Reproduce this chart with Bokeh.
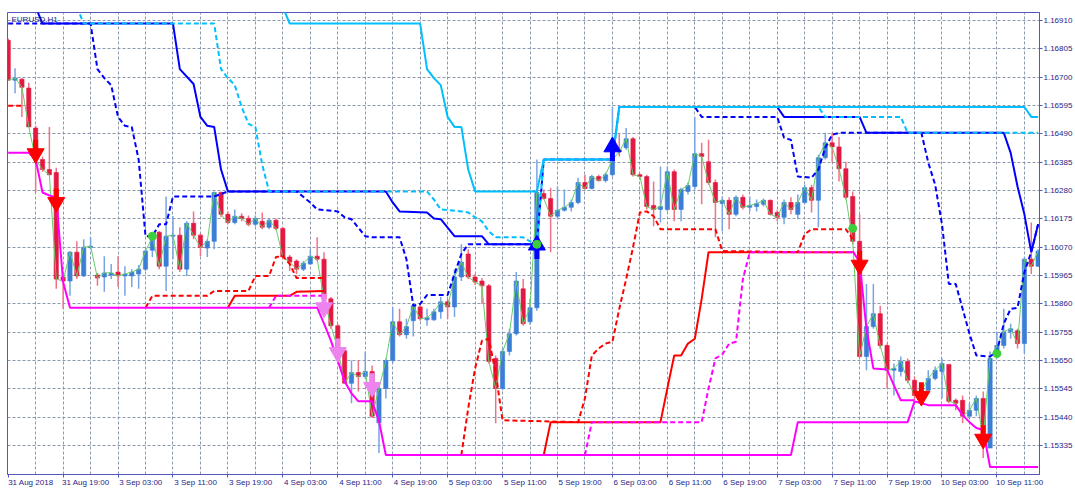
import math
from bokeh.plotting import figure
from bokeh.models import FixedTicker, PrintfTickFormatter, Range1d, Label, ColumnDataSource, LinearAxis
from bokeh.embed import file_html
from bokeh.resources import INLINE

# ---------------- data ----------------
symbol = "EURUSD,H1"
time_labels = ["31 Aug 2018", "31 Aug 19:00", "3 Sep 03:00", "3 Sep 11:00", "3 Sep 19:00",
               "4 Sep 03:00", "4 Sep 11:00", "4 Sep 19:00", "5 Sep 03:00", "5 Sep 11:00",
               "5 Sep 19:00", "6 Sep 03:00", "6 Sep 11:00", "6 Sep 19:00", "7 Sep 03:00",
               "7 Sep 11:00", "7 Sep 19:00", "10 Sep 03:00", "10 Sep 11:00"]
label_bars = [0, 8, 16, 24, 32, 40, 48, 56, 64, 72, 80, 88, 96, 104, 112, 120, 128, 136, 144]
grid_bars = [4, 8, 12, 16, 20, 24, 28, 32, 36, 40, 44, 48, 52, 56, 60, 64, 68, 72, 76, 80, 84, 88,
             92, 96, 100, 104, 108, 112, 116, 120, 124, 128, 132, 136, 140, 144, 148]
price_ticks = [1.16910, 1.16805, 1.16700, 1.16595, 1.16490, 1.16385, 1.16280, 1.16175,
               1.16070, 1.15965, 1.15860, 1.15755, 1.15650, 1.15545, 1.15440, 1.15335]

open_ = [1.16837, 1.16689, 1.16693, 1.16660, 1.16512, 1.16395, 1.16358, 1.16347, 1.15960, 1.15945,
         1.16052, 1.15964, 1.16070, 1.15967, 1.15960, 1.15967, 1.15978, 1.15964, 1.15964, 1.15971,
         1.15989, 1.16059, 1.16126, 1.16000, 1.16111, 1.16115, 1.15989, 1.16159, 1.16115, 1.16067,
         1.16092, 1.16273, 1.16192, 1.16162, 1.16185, 1.16177, 1.16155, 1.16166, 1.16144, 1.16170,
         1.16140, 1.16034, 1.16019, 1.15989, 1.16008, 1.16037, 1.16026, 1.15879, 1.15779, 1.15687,
         1.15566, 1.15606, 1.15591, 1.15610, 1.15420, 1.15547, 1.15650, 1.15794, 1.15746, 1.15798,
         1.15849, 1.15801, 1.15801, 1.15831, 1.15868, 1.15849, 1.15960, 1.16045, 1.15960, 1.15945,
         1.15927, 1.15658, 1.15547, 1.15684, 1.15750, 1.15916, 1.15794, 1.15846, 1.16269, 1.16251,
         1.16185, 1.16207, 1.16218, 1.16236, 1.16310, 1.16288, 1.16332, 1.16317, 1.16339, 1.16431,
         1.16439, 1.16472, 1.16339, 1.16332, 1.16225, 1.16210, 1.16210, 1.16350, 1.16210, 1.16277,
         1.16295, 1.16417, 1.16387, 1.16310, 1.16232, 1.16244, 1.16192, 1.16255, 1.16218, 1.16221,
         1.16229, 1.16244, 1.16199, 1.16181, 1.16236, 1.16192, 1.16236, 1.16291, 1.16244, 1.16402,
         1.16457, 1.16442, 1.16361, 1.16258, 1.16092, 1.15665, 1.15776, 1.15824, 1.15706, 1.15614,
         1.15610, 1.15647, 1.15577, 1.15521, 1.15540, 1.15584, 1.15610, 1.15636, 1.15503, 1.15503,
         1.15444, 1.15466, 1.15510, 1.15326, 1.15684, 1.15706, 1.15757, 1.15761, 1.15713, 1.16026,
         1.16000]
high = [1.16844, 1.16733, 1.16697, 1.16680, 1.16520, 1.16406, 1.16516, 1.16365, 1.15971, 1.16056,
        1.16092, 1.16100, 1.16107, 1.15975, 1.16037, 1.16008, 1.16037, 1.16000, 1.15989, 1.16004,
        1.16063, 1.16115, 1.16129, 1.16258, 1.16185, 1.16144, 1.16166, 1.16203, 1.16122, 1.16100,
        1.16277, 1.16277, 1.16203, 1.16210, 1.16196, 1.16188, 1.16188, 1.16199, 1.16177, 1.16177,
        1.16144, 1.16041, 1.16026, 1.16019, 1.16063, 1.16107, 1.16052, 1.15886, 1.15787, 1.15695,
        1.15650, 1.15650, 1.15684, 1.15632, 1.15555, 1.15658, 1.15849, 1.15842, 1.15805, 1.15860,
        1.15857, 1.15842, 1.15842, 1.15886, 1.15879, 1.15989, 1.16081, 1.16063, 1.15971, 1.15956,
        1.15934, 1.15669, 1.15695, 1.15768, 1.15978, 1.15952, 1.15879, 1.16395, 1.16284, 1.16291,
        1.16295, 1.16284, 1.16247, 1.16328, 1.16339, 1.16339, 1.16339, 1.16347, 1.16590, 1.16494,
        1.16512, 1.16479, 1.16343, 1.16339, 1.16314, 1.16369, 1.16369, 1.16358, 1.16291, 1.16310,
        1.16553, 1.16457, 1.16468, 1.16321, 1.16258, 1.16255, 1.16262, 1.16266, 1.16258, 1.16247,
        1.16251, 1.16247, 1.16207, 1.16247, 1.16255, 1.16266, 1.16302, 1.16302, 1.16413, 1.16494,
        1.16494, 1.16479, 1.16387, 1.16277, 1.16192, 1.15934, 1.15934, 1.15853, 1.15713, 1.15639,
        1.15665, 1.15658, 1.15591, 1.15566, 1.15614, 1.15628, 1.15658, 1.15636, 1.15510, 1.15521,
        1.15492, 1.15521, 1.15536, 1.15684, 1.15757, 1.15842, 1.15787, 1.15768, 1.16034, 1.16162,
        1.16063]
low = [1.16689, 1.16641, 1.16553, 1.16516, 1.16273, 1.16350, 1.16336, 1.15916, 1.15842, 1.15890,
       1.15952, 1.15960, 1.16063, 1.15927, 1.15905, 1.15952, 1.15923, 1.15890, 1.15923, 1.15916,
       1.15982, 1.16034, 1.15989, 1.15908, 1.16026, 1.15978, 1.15964, 1.16100, 1.16037, 1.16034,
       1.16063, 1.16181, 1.16155, 1.16155, 1.16166, 1.16148, 1.16148, 1.16137, 1.16137, 1.16133,
       1.16026, 1.15982, 1.15971, 1.15982, 1.16004, 1.16019, 1.15871, 1.15768, 1.15687, 1.15566,
       1.15492, 1.15536, 1.15584, 1.15437, 1.15308, 1.15510, 1.15639, 1.15739, 1.15731, 1.15739,
       1.15798, 1.15779, 1.15798, 1.15805, 1.15805, 1.15812, 1.15945, 1.15952, 1.15930, 1.15860,
       1.15639, 1.15418, 1.15540, 1.15669, 1.15743, 1.15779, 1.15783, 1.15835, 1.16247, 1.16052,
       1.16174, 1.16203, 1.16203, 1.16229, 1.16284, 1.16284, 1.16314, 1.16310, 1.16332, 1.16406,
       1.16431, 1.16332, 1.16321, 1.16210, 1.16148, 1.16162, 1.16203, 1.16166, 1.16166, 1.16266,
       1.16284, 1.16229, 1.16302, 1.16107, 1.16129, 1.16137, 1.16185, 1.16210, 1.16203, 1.16203,
       1.16221, 1.16188, 1.16166, 1.16155, 1.16192, 1.16174, 1.16229, 1.16199, 1.16144, 1.16395,
       1.16384, 1.16314, 1.16247, 1.16081, 1.15665, 1.15614, 1.15768, 1.15695, 1.15547, 1.15521,
       1.15591, 1.15566, 1.15503, 1.15492, 1.15536, 1.15577, 1.15510, 1.15492, 1.15466, 1.15418,
       1.15437, 1.15444, 1.15289, 1.15326, 1.15658, 1.15695, 1.15731, 1.15695, 1.15676, 1.15971,
       1.15997]
close = [1.16689, 1.16697, 1.16663, 1.16516, 1.16395, 1.16358, 1.16339, 1.15952, 1.15945, 1.16052,
         1.15964, 1.16070, 1.16074, 1.15956, 1.15975, 1.15975, 1.15964, 1.15971, 1.15978, 1.15989,
         1.16056, 1.16107, 1.16000, 1.16111, 1.16115, 1.15989, 1.16159, 1.16115, 1.16070, 1.16092,
         1.16273, 1.16192, 1.16162, 1.16185, 1.16177, 1.16155, 1.16177, 1.16144, 1.16170, 1.16140,
         1.16034, 1.16015, 1.15989, 1.16011, 1.16037, 1.16026, 1.15879, 1.15779, 1.15695, 1.15566,
         1.15606, 1.15591, 1.15610, 1.15444, 1.15547, 1.15650, 1.15794, 1.15746, 1.15776, 1.15853,
         1.15805, 1.15809, 1.15831, 1.15868, 1.15849, 1.15960, 1.16015, 1.15960, 1.15941, 1.15927,
         1.15647, 1.15547, 1.15684, 1.15750, 1.15945, 1.15787, 1.15846, 1.16273, 1.16251, 1.16185,
         1.16207, 1.16218, 1.16236, 1.16310, 1.16288, 1.16332, 1.16317, 1.16339, 1.16395, 1.16424,
         1.16472, 1.16339, 1.16332, 1.16221, 1.16210, 1.16221, 1.16350, 1.16210, 1.16284, 1.16299,
         1.16417, 1.16406, 1.16310, 1.16236, 1.16244, 1.16192, 1.16255, 1.16218, 1.16225, 1.16232,
         1.16244, 1.16192, 1.16181, 1.16236, 1.16210, 1.16236, 1.16291, 1.16244, 1.16402, 1.16457,
         1.16442, 1.16361, 1.16255, 1.16092, 1.15665, 1.15776, 1.15824, 1.15706, 1.15614, 1.15621,
         1.15647, 1.15577, 1.15521, 1.15536, 1.15584, 1.15614, 1.15639, 1.15499, 1.15492, 1.15444,
         1.15466, 1.15510, 1.15363, 1.15658, 1.15706, 1.15757, 1.15768, 1.15713, 1.16026, 1.16000,
         1.16056]

# indicator lines (bar index, price) vertices
blue_solid_a_x = [4, 5, 24, 25, 27, 28, 29, 30, 31, 32, 55, 56, 57, 61, 62, 63, 65, 69, 70, 77]
blue_solid_a_y = [1.16960, 1.16899, 1.16899, 1.16730, 1.16675, 1.16553, 1.16520, 1.16516, 1.16358, 1.16277,
                  1.16277, 1.16236, 1.16203, 1.16199, 1.16177, 1.16174, 1.16111, 1.16111, 1.16081, 1.16081]
blue_solid_b_x = [112, 113, 124, 125, 145, 146, 147, 148, 149, 150]
blue_solid_b_y = [1.16590, 1.16553, 1.16553, 1.16494, 1.16494, 1.16420, 1.16295, 1.16192, 1.16052, 1.16155]

blue_dash_x = [0, 12, 13, 14, 15, 16, 17, 18, 19, 20, 21, 22, 23, 24, 30, 32, 42, 44, 45, 48, 49, 50,
               52, 53, 57, 58, 59, 60, 61, 64, 65, 66, 67, 77, 78, 88, 89, 100, 101, 112, 113, 114,
               115, 117, 118, 119, 120, 121, 133, 134, 135, 136, 137, 138, 139, 140, 141, 143, 144,
               145, 146, 147, 148, 149, 150]
blue_dash_y = [1.16899, 1.16899, 1.16730, 1.16697, 1.16671, 1.16553, 1.16520, 1.16516, 1.16395, 1.16111,
               1.16111, 1.16155, 1.16155, 1.16258, 1.16258, 1.16277, 1.16277, 1.16236, 1.16210, 1.16203,
               1.16181, 1.16174, 1.16111, 1.16107, 1.16107, 1.16026, 1.15853, 1.15860, 1.15893, 1.15893,
               1.15971, 1.16045, 1.16081, 1.16081, 1.16395, 1.16395, 1.16590, 1.16590, 1.16553, 1.16553,
               1.16476, 1.16468, 1.16332, 1.16328, 1.16358, 1.16439, 1.16487, 1.16494, 1.16494, 1.16384,
               1.16302, 1.16155, 1.15934, 1.15934, 1.15842, 1.15750, 1.15669, 1.15665, 1.15684, 1.15787,
               1.15842, 1.15846, 1.15978, 1.16052, 1.16155]

cyan_solid_x = [40, 41, 60, 61, 62, 63, 64, 65, 66, 67, 68, 77, 78, 88, 89, 148, 149, 150]
cyan_solid_y = [1.16960, 1.16899, 1.16899, 1.16730, 1.16697, 1.16671, 1.16553, 1.16516, 1.16516, 1.16358,
                1.16277, 1.16277, 1.16395, 1.16395, 1.16590, 1.16590, 1.16553, 1.16553]

cyan_dash_x = [10, 11, 30, 31, 32, 33, 34, 35, 36, 37, 38, 61, 62, 63, 66, 67, 68, 69, 70, 71, 75, 76,
               77, 78, 88, 89, 118, 119, 130, 131, 150]
cyan_dash_y = [1.16960, 1.16899, 1.16899, 1.16730, 1.16697, 1.16671, 1.16590, 1.16527, 1.16516, 1.16376,
               1.16277, 1.16277, 1.16247, 1.16210, 1.16203, 1.16199, 1.16181, 1.16166, 1.16129, 1.16107,
               1.16107, 1.16092, 1.16089, 1.16395, 1.16395, 1.16590, 1.16590, 1.16553, 1.16553, 1.16494,
               1.16494]

red_solid_a_x = [32, 33, 41, 42, 46]
red_solid_a_y = [1.15846, 1.15890, 1.15890, 1.15905, 1.15908]
red_solid_b_x = [78, 79, 95, 96, 97, 98, 99, 100, 101, 102, 123]
red_solid_b_y = [1.15300, 1.15422, 1.15422, 1.15547, 1.15669, 1.15669, 1.15713, 1.15731, 1.15879, 1.16052, 1.16052]

red_dash_a_x = [0, 2]
red_dash_a_y = [1.16594, 1.16594]
red_dash_b_x = [20, 21, 29, 30, 35, 36, 38, 39, 40, 41, 42, 46]
red_dash_b_y = [1.15846, 1.15890, 1.15890, 1.15908, 1.15908, 1.15964, 1.15964, 1.16034, 1.16037, 1.16008,
                1.15956, 1.15956]
red_dash_c_x = [66, 67, 68, 69, 70, 71, 72, 83, 84, 85, 86, 87, 88, 89, 90, 91, 92, 93, 94, 95, 103,
                104, 115, 116, 117, 122, 123]
red_dash_c_y = [1.15300, 1.15474, 1.15621, 1.15724, 1.15731, 1.15603, 1.15429, 1.15422, 1.15510, 1.15669,
                1.15695, 1.15713, 1.15720, 1.15842, 1.15952, 1.16070, 1.16199, 1.16203, 1.16185, 1.16137,
                1.16137, 1.16056, 1.16052, 1.16118, 1.16137, 1.16137, 1.16100]

magenta_solid_a_x = [0, 3, 4, 5, 6, 7, 8, 9, 45, 46, 47, 48, 49, 50, 51, 53, 54, 55, 114, 115, 131,
                     132, 133, 134, 138, 139, 140, 141, 142, 143, 150]
magenta_solid_a_y = [1.16420, 1.16420, 1.16395, 1.16273, 1.16262, 1.16255, 1.15941, 1.15846, 1.15846,
                     1.15787, 1.15724, 1.15650, 1.15573, 1.15529, 1.15499, 1.15499, 1.15426, 1.15300,
                     1.15300, 1.15422, 1.15422, 1.15499, 1.15492, 1.15485, 1.15485, 1.15448, 1.15422,
                     1.15400, 1.15393, 1.15256, 1.15256]
magenta_solid_b_x = [123, 124, 125, 126, 128, 129, 130, 132]
magenta_solid_b_y = [1.16056, 1.16015, 1.15768, 1.15621, 1.15617, 1.15558, 1.15503, 1.15503]

magenta_dash_a_x = [38, 39, 46]
magenta_dash_a_y = [1.15846, 1.15890, 1.15890]
magenta_dash_b_x = [84, 85, 101, 102, 103, 104, 105, 106, 107, 108, 123]
magenta_dash_b_y = [1.15300, 1.15422, 1.15422, 1.15547, 1.15658, 1.15673, 1.15713, 1.15720, 1.15952,
                    1.16052, 1.16052]

sell_arrow_x = [4, 7, 124, 133, 142]
sell_arrow_y = [1.16417, 1.16236, 1.16004, 1.15518, 1.15359]
buy_arrow_x = [77, 88]
buy_arrow_y = [1.16078, 1.16442]
warn_arrow_x = [46, 48, 53]
warn_arrow_y = [1.15846, 1.15680, 1.15551]
dot_x = [21, 77, 123, 144]
dot_y = [1.16111, 1.16081, 1.16140, 1.15676]

# ---------------- styles ----------------
FRAME = "#5656c0"
TEXT = "#1e1e86"
GRID = "#8a99ab"
BULL = "#3b7ed6"
BEAR = "#e21a42"
BULL_WICK = "#78a4e4"
BEAR_WICK = "#ee7387"
BLUE = "#0000ff"
CYAN = "#00bfff"
RED = "#ff0000"
MAGENTA = "#ff00ff"
FONT = "Liberation Sans"
X0, X1 = -0.1, 150.2
LABEL_SHIFT = 3.3   # centred tick labels -> text starts at its tick (MT4 style)

bars = list(range(len(open_)))

p = figure(width=1075, height=489, output_backend="svg", toolbar_location=None,
           x_range=Range1d(X0, X1), y_range=Range1d(1.15228, 1.16940),
           x_axis_location="below", y_axis_location="right",
           min_border_left=7, min_border_top=12, min_border_right=0, min_border_bottom=0)
p.extra_x_ranges = {"labels": Range1d(X0 - LABEL_SHIFT, X1 - LABEL_SHIFT)}
p.background_fill_color = "white"
p.border_fill_color = "white"
p.outline_line_color = FRAME
p.outline_line_width = 1

xa = p.xaxis[0]
ya = p.yaxis[0]
xa.ticker = FixedTicker(ticks=label_bars)
xa.major_label_text_font_size = "1px"
xa.major_label_text_color = None
xa.major_label_standoff = 0
ya.ticker = FixedTicker(ticks=price_ticks)
ya.formatter = PrintfTickFormatter(format="%.5f")
ya.major_label_standoff = 1
ya.major_label_text_font = FONT
ya.major_label_text_font_size = "8px"
ya.major_label_text_color = TEXT
for ax in (xa, ya):
    ax.axis_line_color = FRAME
    ax.major_tick_line_color = FRAME
    ax.minor_tick_line_color = None
    ax.major_tick_in = 0
    ax.major_tick_out = 3

xl = LinearAxis(x_range_name="labels", ticker=FixedTicker(ticks=label_bars),
                major_label_overrides={b: t for b, t in zip(label_bars, time_labels)},
                axis_line_color=None, major_tick_line_color=None, minor_tick_line_color=None,
                major_tick_in=0, major_tick_out=0, major_label_standoff=0,
                major_label_text_font=FONT, major_label_text_font_size="8px",
                major_label_text_color=TEXT)
p.add_layout(xl, "below")

p.xgrid.ticker = FixedTicker(ticks=grid_bars)
p.ygrid.ticker = FixedTicker(ticks=price_ticks)
for g in (p.xgrid[0], p.ygrid[0]):
    g.grid_line_color = GRID
    g.grid_line_dash = "3 2"
    g.grid_line_width = 1

# candles
src = ColumnDataSource(dict(
    x=bars, o=open_, h=high, l=low, c=close,
    top=[max(o, c) for o, c in zip(open_, close)],
    bottom=[min(o, c) for o, c in zip(open_, close)],
    body=[BULL if c >= o else BEAR for o, c in zip(open_, close)],
    wick=[BULL_WICK if c >= o else BEAR_WICK for o, c in zip(open_, close)],
))
p.segment(x0="x", y0="l", x1="x", y1="h", source=src, line_color="wick", line_width=1.5)
p.vbar(x="x", top="top", bottom="bottom", width=0.62, source=src,
       fill_color="body", line_color="body", line_width=0.6)

# close line
p.line(bars, close, line_color="#66cc66", line_width=1)

def draw(xs, ys, color, dash="solid"):
    p.line(xs, ys, line_color=color, line_width=2, line_dash=dash)

draw(red_dash_a_x, red_dash_a_y, RED, "5 3")
draw(red_dash_b_x, red_dash_b_y, RED, "5 3")
draw(red_dash_c_x, red_dash_c_y, RED, "5 3")
draw(red_solid_a_x, red_solid_a_y, RED)
draw(red_solid_b_x, red_solid_b_y, RED)
draw(magenta_dash_a_x, magenta_dash_a_y, MAGENTA, "5 3")
draw(magenta_dash_b_x, magenta_dash_b_y, MAGENTA, "5 3")
draw(magenta_solid_a_x, magenta_solid_a_y, MAGENTA)
draw(magenta_solid_b_x, magenta_solid_b_y, MAGENTA)
draw(blue_solid_a_x, blue_solid_a_y, BLUE)
draw(blue_solid_b_x, blue_solid_b_y, BLUE)
draw(blue_dash_x, blue_dash_y, BLUE, "5 3")
draw(cyan_dash_x, cyan_dash_y, CYAN, "5 3")
draw(cyan_solid_x, cyan_solid_y, CYAN)

# arrows
def arrows(xs, ys, color, down=True):
    ang = math.pi / 2 if down else -math.pi / 2
    p.ray(x=xs, y=ys, length=14, length_units="screen", angle=ang,
          line_color=color, line_width=5)
    p.scatter(x=xs, y=ys, marker="inverted_triangle" if down else "triangle", size=17,
              fill_color=color, line_color=color, line_width=1)

arrows(sell_arrow_x, sell_arrow_y, RED, True)
arrows(warn_arrow_x, warn_arrow_y, "#ee82ee", True)
arrows(buy_arrow_x, buy_arrow_y, BLUE, False)

p.scatter(x=dot_x, y=dot_y, marker="circle", size=8, fill_color="#3ccf3c", line_color="#3ccf3c")

p.add_layout(Label(x=X0, y=1.16940, x_offset=4, y_offset=-2, text=symbol,
                   text_font=FONT, text_font_size="8px", text_color=TEXT,
                   text_baseline="top"))

open("out.html", "w").write(file_html(p, INLINE))
